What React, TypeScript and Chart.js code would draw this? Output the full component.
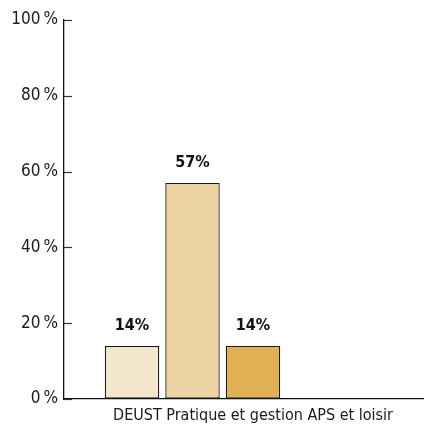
import React, { useEffect, useRef } from "react";
import { Chart, registerables } from "chart.js";

Chart.register(...registerables);

const categories = ["DEUST Pratique et gestion APS et loisir"];
const series1 = [14];
const series2 = [57];
const series3 = [14];
const series4: (number | null)[] = [null];
const series5: (number | null)[] = [null];
const seriesColors = ["#f4e6cd", "#edd3a1", "#e0b055", "#cccccc", "#aaaaaa"];
const yTicks = [0, 20, 40, 60, 80, 100];

const FONT = "'DejaVu Sans Condensed', 'Liberation Sans Narrow', sans-serif";

const innerTicks = {
  id: "innerTicks",
  afterDraw(chart: any) {
    const ctx = chart.ctx;
    const y = chart.scales.y;
    const left = chart.chartArea.left;
    ctx.save();
    ctx.strokeStyle = "#333";
    ctx.lineWidth = 1.2;
    y.ticks.forEach((t: any) => {
      const py = Math.round(y.getPixelForValue(t.value)) + 0.5;
      ctx.beginPath();
      ctx.moveTo(left, py);
      ctx.lineTo(left + 8, py);
      ctx.stroke();
    });
    ctx.restore();
  },
};

const valueLabels = {
  id: "valueLabels",
  afterDatasetsDraw(chart: any) {
    const ctx = chart.ctx;
    ctx.save();
    ctx.font = `bold 16px ${FONT}`;
    ctx.fillStyle = "#111";
    ctx.textAlign = "center";
    ctx.textBaseline = "middle";
    chart.data.datasets.forEach((ds: any, i: number) => {
      const meta = chart.getDatasetMeta(i);
      meta.data.forEach((el: any, j: number) => {
        const v = ds.data[j];
        if (v === null || v === undefined || v === 0) return;
        ctx.fillText(`${v}%`, el.x, el.y - 20);
      });
    });
    ctx.restore();
  },
};

export default function App() {
  const ref = useRef<HTMLCanvasElement>(null);
  useEffect(() => {
    const all = [series1, series2, series3, series4, series5];
    const chart = new Chart(ref.current!, {
      type: "bar",
      data: {
        labels: categories,
        datasets: all.map((d, i) => ({
          label: `S${i + 1}`,
          data: d,
          backgroundColor: seriesColors[i],
          borderColor: "#1a1a1a",
          borderWidth: 1.3,
          borderSkipped: false,
          barPercentage: 0.9,
          categoryPercentage: 0.8,
        })),
      },
      options: {
        animation: false,
        responsive: false,
        maintainAspectRatio: false,
        layout: { padding: { top: 20, bottom: 0, left: 0, right: 0 } },
        plugins: { legend: { display: false }, tooltip: { enabled: false } },
        scales: {
          y: {
            min: 0,
            max: 100,
            afterFit: (s: any) => { s.width = 64; },
            afterBuildTicks: (s: any) => { s.ticks = yTicks.map((v) => ({ value: v })); },
            grid: { drawOnChartArea: false, drawTicks: false },
            border: { color: "#111", width: 1.3 },
            ticks: {
              padding: 6,
              color: "#1a1a1a",
              font: { family: FONT, size: 17 },
              callback: (v: any) => `${v}\u202F%`,
            },
          },
          x: {
            afterFit: (s: any) => { s.height = 25; },
            grid: { display: false, drawTicks: false },
            border: { color: "#111", width: 1.3 },
            ticks: {
              padding: 7,
              color: "#1a1a1a",
              font: { family: FONT, size: 16 },
            },
          },
        },
      },
      plugins: [innerTicks, valueLabels],
    });
    return () => chart.destroy();
  }, []);
  return (
    <div style={{ position: "fixed", left: 0, top: 0, width: 424, height: 424, overflow: "hidden", background: "#fff" }}>
      <canvas ref={ref} width={442} height={424} style={{ display: "block" }} />
    </div>
  );
}
